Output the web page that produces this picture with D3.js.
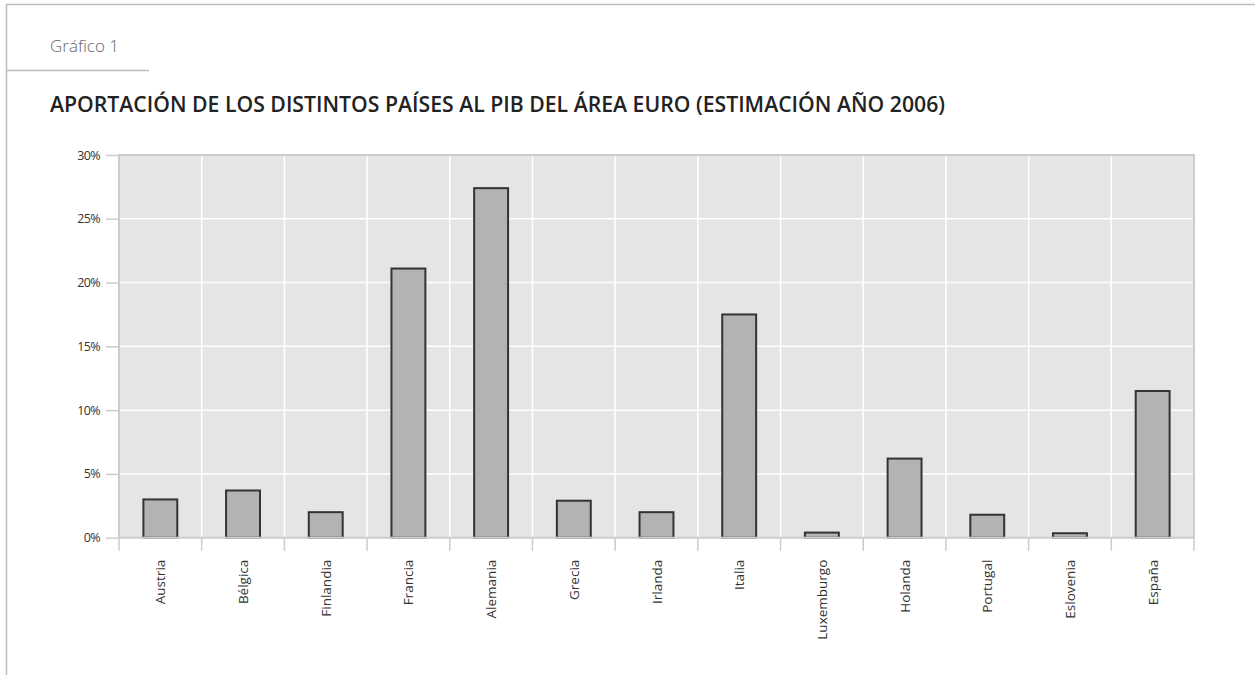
<!DOCTYPE html>
<html>
<head>
<meta charset="utf-8">
<script src="https://cdn.jsdelivr.net/npm/d3@7"></script>
<style>
  body { margin: 0; background: #fff; }
  svg { display: block; font-family: "Open Sans", "Noto Sans", sans-serif; }
</style>
</head>
<body>
<div id="chart"></div>
<script>
const countries = ["Austria", "Bélgica", "Finlandia", "Francia", "Alemania", "Grecia", "Irlanda",
  "Italia", "Luxemburgo", "Holanda", "Portugal", "Eslovenia", "España"];
const shares = [3.0, 3.7, 2.0, 21.1, 27.4, 2.9, 2.0, 17.5, 0.4, 6.2, 1.8, 0.35, 11.5];
const yTicks = [0, 5, 10, 15, 20, 25, 30];

const width = 1255;
const height = 675;
const margin = { top: 155, right: 61, bottom: 137, left: 119 };

const svg = d3.select("#chart").append("svg")
  .attr("width", width)
  .attr("height", height);

// frame
svg.append("line").attr("x1", 6).attr("x2", width).attr("y1", 4.5).attr("y2", 4.5)
  .attr("stroke", "#bdbdbd").attr("stroke-width", 1.5);
svg.append("line").attr("x1", 6.5).attr("x2", 6.5).attr("y1", 4).attr("y2", height)
  .attr("stroke", "#bdbdbd").attr("stroke-width", 1.5);
svg.append("line").attr("x1", 6).attr("x2", 149).attr("y1", 70.5).attr("y2", 70.5)
  .attr("stroke", "#bdbdbd").attr("stroke-width", 1.5);

svg.append("text")
  .attr("x", 50).attr("y", 52)
  .attr("font-size", "17px")
  .attr("font-weight", "300")
  .attr("fill", "#666")
  .text("Gráfico 1");

svg.append("text")
  .attr("x", 50).attr("y", 112)
  .attr("font-size", "22px")
  .attr("font-weight", "600")
  .attr("fill", "#222")
  .attr("textLength", 895)
  .attr("lengthAdjust", "spacingAndGlyphs")
  .text("APORTACIÓN DE LOS DISTINTOS PAÍSES AL PIB DEL ÁREA EURO (ESTIMACIÓN AÑO 2006)");

const x = d3.scaleBand()
  .domain(countries)
  .range([margin.left, width - margin.right])
  .paddingInner(0.59)
  .paddingOuter(0.295);

const xEdges = d3.scaleLinear()
  .domain([0, countries.length])
  .range([margin.left, width - margin.right]);

const y = d3.scaleLinear()
  .domain([0, 30])
  .range([height - margin.bottom - 0.3, margin.top]);

const plotL = margin.left, plotR = width - margin.right;
const plotT = margin.top, plotB = y(0);

// background
svg.append("rect")
  .attr("x", plotL).attr("y", plotT)
  .attr("width", plotR - plotL).attr("height", plotB - plotT)
  .attr("fill", "#e5e5e5");

// grid
svg.append("g").selectAll("line")
  .data(yTicks.slice(1, -1))
  .join("line")
  .attr("x1", plotL).attr("x2", plotR)
  .attr("y1", d => y(d)).attr("y2", d => y(d))
  .attr("stroke", "#fff").attr("stroke-width", 1.5);

svg.append("g").selectAll("line")
  .data(d3.range(1, countries.length))
  .join("line")
  .attr("x1", d => xEdges(d)).attr("x2", d => xEdges(d))
  .attr("y1", plotT).attr("y2", plotB)
  .attr("stroke", "#fff").attr("stroke-width", 1.5);

// plot border (top, left, right)
svg.append("path")
  .attr("d", `M${plotL},${plotB}V${plotT}H${plotR}V${plotB}`)
  .attr("fill", "none").attr("stroke", "#cccccc").attr("stroke-width", 2);

// bars
svg.append("g").selectAll("rect")
  .data(shares)
  .join("rect")
  .attr("x", (d, i) => x(countries[i]))
  .attr("y", d => y(d))
  .attr("width", x.bandwidth())
  .attr("height", d => plotB - y(d))
  .attr("fill", "#b3b3b3")
  .attr("stroke", "#333")
  .attr("stroke-width", 2);

// x axis line and category boundary ticks
svg.append("line")
  .attr("x1", plotL - 1).attr("x2", plotR + 1)
  .attr("y1", plotB).attr("y2", plotB)
  .attr("stroke", "#cccccc").attr("stroke-width", 2);

svg.append("g").selectAll("line")
  .data(d3.range(0, countries.length + 1))
  .join("line")
  .attr("x1", d => xEdges(d)).attr("x2", d => xEdges(d))
  .attr("y1", plotB).attr("y2", plotB + 13)
  .attr("stroke", "#cccccc").attr("stroke-width", 1.5);

// y axis
const yAxis = svg.append("g")
  .attr("transform", `translate(${plotL - 1},0)`)
  .call(d3.axisLeft(y).tickValues(yTicks).tickSize(12).tickPadding(6).tickFormat(d => d + "%"));
yAxis.select(".domain").remove();
yAxis.selectAll(".tick line").attr("stroke", "#cccccc").attr("stroke-width", 1.5);
yAxis.selectAll(".tick text")
  .attr("font-family", "'Open Sans', sans-serif")
  .attr("font-size", "12.5px")
  .attr("letter-spacing", "-0.6px")
  .attr("fill", "#333");

// x labels
svg.append("g").selectAll("text")
  .data(countries)
  .join("text")
  .attr("transform", d => `translate(${x(d) + x.bandwidth() / 2 + 5},${plotB + 22}) rotate(-90)`)
  .attr("text-anchor", "end")
  .attr("font-size", "13.5px")
  .attr("fill", "#333")
  .text(d => d);
</script>
</body>
</html>
